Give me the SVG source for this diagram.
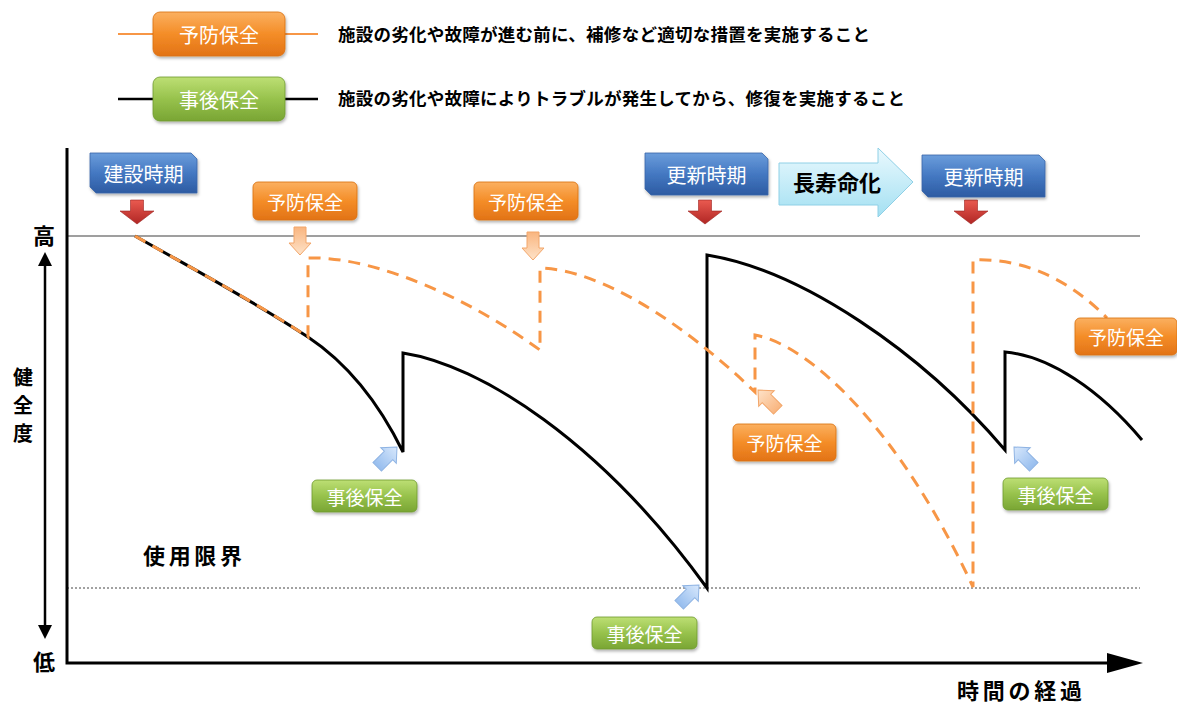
<svg xmlns="http://www.w3.org/2000/svg" width="1177" height="704" viewBox="0 0 1177 704">
<defs>
<style>
text{font-family:'Noto Sans CJK JP','Noto Sans',sans-serif;}
.bt{fill:#ffffff;font-size:19px;text-anchor:middle;dominant-baseline:central;}
.lbl{fill:#000;font-weight:700;}
.desc{fill:#000;font-weight:700;font-size:17.5px;}
.ob{fill:url(#og);stroke:#d9700f;stroke-width:0.8;filter:url(#sh);}
.gb{fill:url(#gg);stroke:#6f9a2e;stroke-width:0.8;filter:url(#sh);}
.bb{fill:url(#bg);stroke:#3a66a8;stroke-width:0.8;filter:url(#sh);}
.ra{fill:url(#rg);stroke:#9c2420;stroke-width:0.6;}
.pa{fill:url(#pg);stroke:#f2a66a;stroke-width:1;}
.la{fill:url(#lg);stroke:#8eb3e3;stroke-width:1;}
.blk{fill:none;stroke:#000;stroke-width:3;stroke-linejoin:miter;}
.dsh{fill:none;stroke:#f79646;stroke-width:3;stroke-dasharray:12 8;}
</style>
<linearGradient id="og" x1="0" y1="0" x2="0" y2="1"><stop offset="0" stop-color="#fbb060"/><stop offset="0.5" stop-color="#f48d28"/><stop offset="1" stop-color="#e27316"/></linearGradient>
<linearGradient id="gg" x1="0" y1="0" x2="0" y2="1"><stop offset="0" stop-color="#bddf74"/><stop offset="0.5" stop-color="#97c24c"/><stop offset="1" stop-color="#79a534"/></linearGradient>
<linearGradient id="bg" x1="0" y1="0" x2="0" y2="1"><stop offset="0" stop-color="#6b9ddb"/><stop offset="0.5" stop-color="#4478c2"/><stop offset="1" stop-color="#2d5ba2"/></linearGradient>
<linearGradient id="rg" x1="0" y1="0" x2="0" y2="1"><stop offset="0" stop-color="#ea5a50"/><stop offset="1" stop-color="#b02624"/></linearGradient>
<linearGradient id="cg" x1="0" y1="0" x2="0" y2="1"><stop offset="0" stop-color="#eaf9fe"/><stop offset="1" stop-color="#a3e0f2"/></linearGradient>
<linearGradient id="pg" x1="0" y1="0" x2="0" y2="1"><stop offset="0" stop-color="#fee3c9"/><stop offset="1" stop-color="#f9b57f"/></linearGradient>
<linearGradient id="lg" x1="0" y1="0" x2="0" y2="1"><stop offset="0" stop-color="#d8e8fc"/><stop offset="1" stop-color="#96bdee"/></linearGradient>
<filter id="sh" x="-10%" y="-20%" width="125%" height="150%"><feDropShadow dx="1" dy="2" stdDeviation="1.5" flood-color="#000" flood-opacity="0.3"/></filter>
<path id="arw" d="M0,0 L11,12 L6,12 L6,28 L-6,28 L-6,12 L-11,12 Z"/>
</defs>
<rect width="1177" height="704" fill="#ffffff"/>

<g id="legend">
<line x1="118" y1="34" x2="318" y2="34" stroke="#f79646" stroke-width="2"/>
<rect class="ob" x="153" y="12" width="132" height="44" rx="7"/>
<text class="bt" x="219" y="34" style="font-size:20px">予防保全</text>
<text class="desc" x="338" y="41" textLength="532">施設の劣化や故障が進む前に、補修など適切な措置を実施すること</text>
<line x1="118" y1="99" x2="318" y2="99" stroke="#000" stroke-width="2.5"/>
<rect class="gb" x="153" y="77" width="132" height="44" rx="7"/>
<text class="bt" x="219" y="99" style="font-size:20px">事後保全</text>
<text class="desc" x="338" y="105" textLength="567">施設の劣化や故障によりトラブルが発生してから、修復を実施すること</text>
</g>

<g id="axes">
<line x1="67" y1="236" x2="1140" y2="236" stroke="#7f7f7f" stroke-width="1.5"/>
<line x1="67" y1="588" x2="1140" y2="588" stroke="#444" stroke-width="1" stroke-dasharray="2 2"/>
<polyline points="67,148 67,663 1108,663" fill="none" stroke="#000" stroke-width="3"/>
<polygon points="1107,653 1143,663 1107,673" fill="#000"/>
<line x1="45" y1="262" x2="45" y2="628" stroke="#000" stroke-width="2.5"/>
<polygon points="45,252 38,266 52,266" fill="#000"/>
<polygon points="45,639 38,625 52,625" fill="#000"/>
<text class="lbl" x="44" y="244" text-anchor="middle" font-size="22">高</text>
<text class="lbl" x="44" y="670" text-anchor="middle" font-size="22">低</text>
<text class="lbl" x="23" y="385" text-anchor="middle" font-size="20">健</text>
<text class="lbl" x="23" y="413" text-anchor="middle" font-size="20">全</text>
<text class="lbl" x="23" y="441" text-anchor="middle" font-size="20">度</text>
<text class="lbl" x="143" y="564" font-size="22" textLength="99">使用限界</text>
<text class="lbl" x="957" y="699" font-size="22" textLength="125">時間の経過</text>
</g>

<g id="connectors">
<path class="blk" d="M135,236 C195,270 255,302 308,337 C350,365 380,405 403,452 L403,353 C480,365 600,440 707,588 L707,255 C800,270 920,350 1005,450 L1005,352 C1050,356 1100,390 1142,440"/>
<path class="dsh" d="M135,236 C195,270 255,302 308,337 L308,258 C360,256 450,285 540,350 L540,268 C600,270 680,320 755,392 L755,335 C810,345 900,430 973,587 L973,260 C1010,258 1060,270 1107,318"/>
<polygon class="ra" points="130.5,200 143.5,200 143.5,211 154,211 137,224 120,211 130.5,211"/>
<polygon class="ra" points="698.5,200 711.5,200 711.5,211 722,211 705,224 688,211 698.5,211"/>
<polygon class="ra" points="964.5,200 977.5,200 977.5,211 988,211 971,224 954,211 964.5,211"/>
<use href="#arw" class="pa" transform="translate(300,255) rotate(180)"/>
<use href="#arw" class="pa" transform="translate(533,260) rotate(180)"/>
<use href="#arw" class="pa" transform="translate(758,390) rotate(-45)"/>
<use href="#arw" class="la" transform="translate(397,447) rotate(45)"/>
<use href="#arw" class="la" transform="translate(699,585) rotate(45)"/>
<use href="#arw" class="la" transform="translate(1014,447) rotate(-45)"/>
</g>

<g id="construction">
<path class="bb" d="M90,153 H191 L197,159 V193 H96 L90,187 Z"/>
<text class="bt" x="143.5" y="173" style="font-size:20px">建設時期</text>
</g>
<g id="renewal1">
<path class="bb" d="M645,153 H762 L768,159 V195 H651 L645,189 Z"/>
<text class="bt" x="706.5" y="174" style="font-size:20px">更新時期</text>
</g>
<g id="renewal2">
<path class="bb" d="M922,155 H1039 L1045,161 V197 H928 L922,191 Z"/>
<text class="bt" x="983.5" y="176" style="font-size:20px">更新時期</text>
</g>
<g id="longevity">
<path d="M779,163 H878 V148 L913,182 L878,217 V205 H779 Z" fill="url(#cg)" stroke="#8fd0e6" stroke-width="1"/>
<text class="lbl" x="837" y="191" text-anchor="middle" font-size="22">長寿命化</text>
</g>

<g id="pm1"><rect class="ob" x="253" y="182" width="104" height="38" rx="5"/><text class="bt" x="305" y="201">予防保全</text></g>
<g id="pm2"><rect class="ob" x="474" y="182" width="104" height="38" rx="5"/><text class="bt" x="526" y="201">予防保全</text></g>
<g id="pm3"><rect class="ob" x="733" y="424" width="103" height="37" rx="5"/><text class="bt" x="784.5" y="442.5">予防保全</text></g>
<g id="pm4"><rect class="ob" x="1075" y="318" width="102" height="37" rx="5"/><text class="bt" x="1126" y="336.5">予防保全</text></g>
<g id="cm1"><rect class="gb" x="312" y="480" width="105" height="32" rx="5"/><text class="bt" x="364.5" y="496">事後保全</text></g>
<g id="cm2"><rect class="gb" x="592" y="617" width="105" height="32" rx="5"/><text class="bt" x="644.5" y="633">事後保全</text></g>
<g id="cm3"><rect class="gb" x="1003" y="478" width="105" height="32" rx="5"/><text class="bt" x="1055.5" y="494">事後保全</text></g>
</svg>
